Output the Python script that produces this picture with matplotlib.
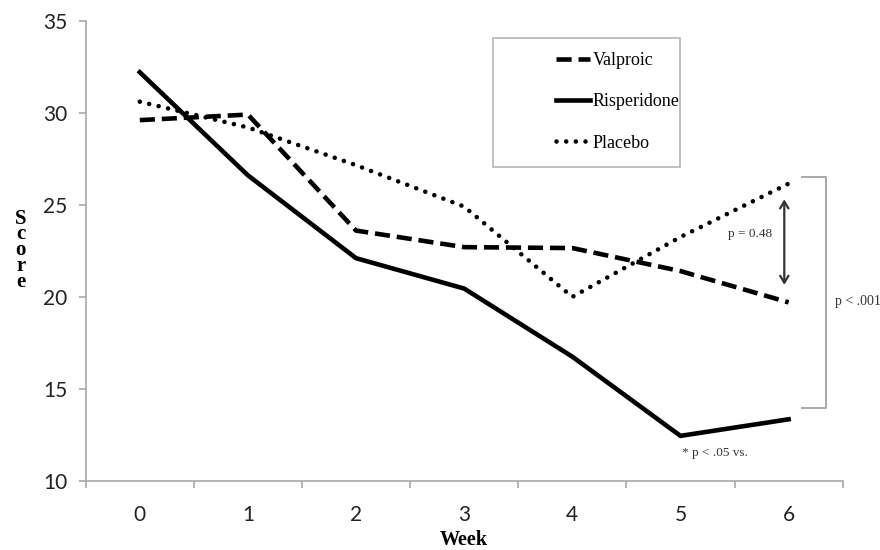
import numpy as np
import matplotlib
matplotlib.use("Agg")
import matplotlib.pyplot as plt
from matplotlib.lines import Line2D

# data
weeks = [0, 1, 2, 3, 4, 5, 6]
valproic = [29.6, 29.9, 23.6, 22.7, 22.65, 21.4, 19.7]
risperidone = [32.2, 26.6, 22.1, 20.45, 16.75, 12.45, 13.35]
placebo = [30.6, 29.2, 27.15, 24.9, 20.0, 23.25, 26.15]
series_names = ["Valproic", "Risperidone", "Placebo"]
y_ticks = [10, 15, 20, 25, 30, 35]

dashed = (0, (3.3, 1.5))
dotted = (0, (0.01, 2.1))
lw = 3.3
gray = "#a8a8a8"

fig = plt.figure(figsize=(8.8, 5.5), dpi=100)
ax = fig.add_axes([0.0974, 0.1255, 0.8602, 0.8369])

x = np.arange(len(weeks))
ax.plot(x, valproic, color="black", lw=lw, linestyle=dashed, dash_capstyle="butt")
ax.plot(x, risperidone, color="black", lw=lw, linestyle="-", solid_joinstyle="miter")
ax.plot(x, placebo, color="black", lw=lw, linestyle=dotted, dash_capstyle="round")

ax.set_xlim(-0.5, len(weeks) - 0.5)
ax.set_ylim(10, 35)
ax.set_yticks(y_ticks)
ax.set_xticks(x)
ax.set_xticklabels([str(w) for w in weeks])
ax.set_xticks(np.arange(-0.5, len(weeks)), minor=True)

for s in ["top", "right"]:
    ax.spines[s].set_visible(False)
for s in ["left", "bottom"]:
    ax.spines[s].set_color(gray)
    ax.spines[s].set_linewidth(1.2)

tick_font = "Lato"
ax.tick_params(axis="x", which="major", length=0, pad=17, labelsize=15)
ax.tick_params(axis="x", which="minor", length=5, color=gray, width=1.2)
ax.tick_params(axis="y", length=5, color=gray, width=1.2, pad=8, labelsize=15)
for lab in ax.get_xticklabels() + ax.get_yticklabels():
    lab.set_family(tick_font)
    lab.set_color("#222222")

ax.set_xlabel("Week", family="Liberation Serif", fontweight="bold", fontsize=14.5, labelpad=4)
fig.text(0.0235, 0.545, "S\nc\no\nr\ne", family="Liberation Serif", fontweight="bold",
         fontsize=15, ha="center", va="center", linespacing=0.72)

# legend box
box = plt.Rectangle((493 / 880, 1 - 167 / 550), 187 / 880, 129 / 550, transform=fig.transFigure,
                    fill=False, edgecolor="#b5b5b5", lw=1.2)
fig.add_artist(box)
handles = [
    Line2D([], [], color="black", lw=lw, linestyle=dashed, dash_capstyle="butt"),
    Line2D([], [], color="black", lw=lw, linestyle="-"),
    Line2D([], [], color="black", lw=lw, linestyle=dotted, dash_capstyle="round"),
]
leg = fig.legend(handles, series_names, loc="upper left", bbox_to_anchor=(556 / 880, 1 - 52 / 550),
                 frameon=False, borderpad=0, borderaxespad=0, handlelength=1.9, handletextpad=0.15,
                 labelspacing=1.35, prop={"family": "Liberation Serif", "size": 13})

# annotations
ax.annotate("", xy=(5.96, 25.45), xytext=(5.96, 20.5),
            arrowprops=dict(arrowstyle="<->,head_length=0.5,head_width=0.3", color="#333333", lw=1.6))
ax.text(5.64, 23.4, "p = 0.48", family="Liberation Serif", fontsize=9.5, ha="center", va="center",
        color="#333333")
bx = [6.12, 6.345, 6.345, 6.12]
by = [26.53, 26.53, 13.97, 13.97]
ax.plot(bx, by, color=gray, lw=1.4, clip_on=False)
ax.text(6.64, 19.74, "p < .001", family="Liberation Serif", fontsize=10, ha="center", va="center",
        color="#333333")
ax.text(5.32, 11.5, "* p < .05 vs.", family="Liberation Serif", fontsize=9.5, ha="center", va="center",
        color="#333333")

fig.savefig("out.png", dpi=100)
